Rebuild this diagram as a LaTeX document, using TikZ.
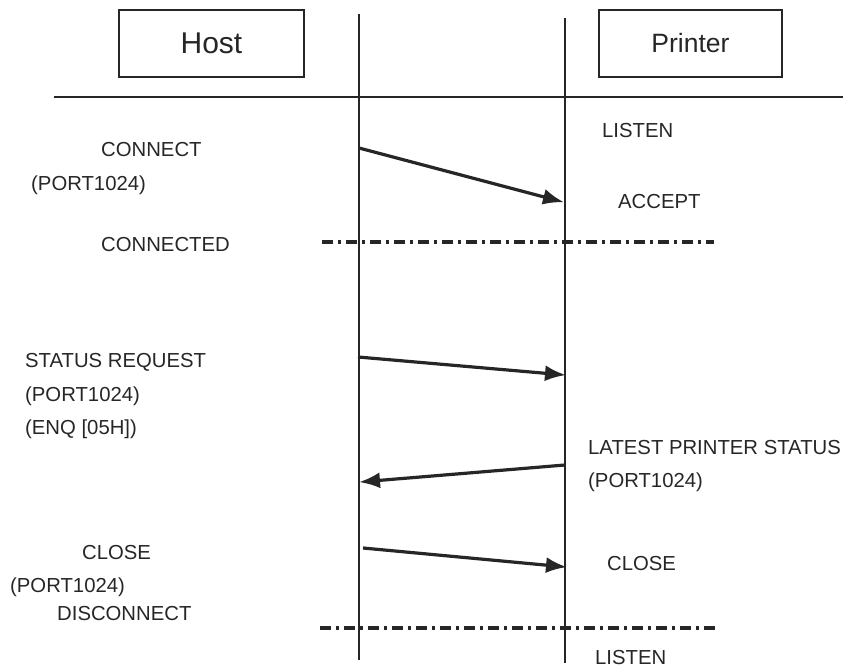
\documentclass[tikz,border=0pt]{standalone}
\usepackage{fontspec}
\setmainfont{Liberation Sans}
\usetikzlibrary{arrows.meta}
\definecolor{ink}{HTML}{262626}
\tikzset{
  lbl/.style={inner sep=0pt, anchor=base west, text=ink, font=\fontsize{20.3}{24}\selectfont},
  hdr/.style={draw=ink, line width=1.8pt, minimum width=185pt, minimum height=67pt, inner sep=0pt, text=ink},
  life/.style={draw=ink, line width=1.9pt},
  msg/.style={draw=ink, line width=3.2pt, -{Latex[length=21pt,width=16pt]}, shorten >=-1pt},
  sep/.style={draw=ink, line width=3.4pt, dash pattern=on 11pt off 5pt on 3pt off 5pt},
  rule/.style={draw=ink, line width=1.8pt}
}
\begin{document}
\begin{tikzpicture}[x=1pt,y=-1pt]
\useasboundingbox (0,0) rectangle (855,669);
% header boxes
\node[hdr, font=\fontsize{30}{34}\selectfont] (host) at (211.5,43.5) {Host};
\node[hdr, minimum width=183pt, font=\fontsize{26.5}{30}\selectfont] (printer) at (690.5,43.5) {Printer};
% header rule
\coordinate (ruleL) at (54,97);
\coordinate (ruleR) at (843,97);
\draw[rule] (ruleL) -- (ruleR);
% lifelines
\coordinate (hostTop) at (359,14);
\coordinate (hostBot) at (359,660);
\coordinate (prnTop) at (565,18);
\coordinate (prnBot) at (565,663);
\draw[life] (hostTop) -- (hostBot);
\draw[life] (prnTop) -- (prnBot);
% messages
\coordinate (m1s) at (359,148);
\coordinate (m1e) at (563,202);
\coordinate (m2s) at (358,357);
\coordinate (m2e) at (565,375);
\coordinate (m3s) at (565,465);
\coordinate (m3e) at (360,482);
\coordinate (m4s) at (363,548);
\coordinate (m4e) at (566,567);
\draw[msg] (m1s) -- (m1e);
\draw[msg] (m2s) -- (m2e);
\draw[msg] (m3s) -- (m3e);
\draw[msg] (m4s) -- (m4e);
% separators
\coordinate (s1l) at (322,242);
\coordinate (s1r) at (714,242);
\coordinate (s2l) at (320,628);
\coordinate (s2r) at (716,628);
\draw[sep] (s1l) -- (s1r);
\draw[sep] (s2l) -- (s2r);
% labels
\node[lbl] (tConnect) at (101,156) {CONNECT};
\node[lbl] (tPort1) at (31,190) {(PORT1024)};
\node[lbl] (tConnected) at (101,251) {CONNECTED};
\node[lbl] (tListen1) at (602,137) {LISTEN};
\node[lbl] (tAccept) at (618,208) {ACCEPT};
\node[lbl] (tStatus) at (25,367) {STATUS REQUEST};
\node[lbl] (tPort2) at (25,401) {(PORT1024)};
\node[lbl] (tEnq) at (25,434) {(ENQ [05H])};
\node[lbl] (tLatest) at (588,454) {LATEST PRINTER STATUS};
\node[lbl] (tPort3) at (588,487) {(PORT1024)};
\node[lbl] (tClose1) at (82,559) {CLOSE};
\node[lbl] (tPort4) at (10,592) {(PORT1024)};
\node[lbl] (tDisc) at (57,620) {DISCONNECT};
\node[lbl] (tClose2) at (607,570) {CLOSE};
\node[lbl] (tListen2) at (595,664) {LISTEN};
\end{tikzpicture}
\end{document}
